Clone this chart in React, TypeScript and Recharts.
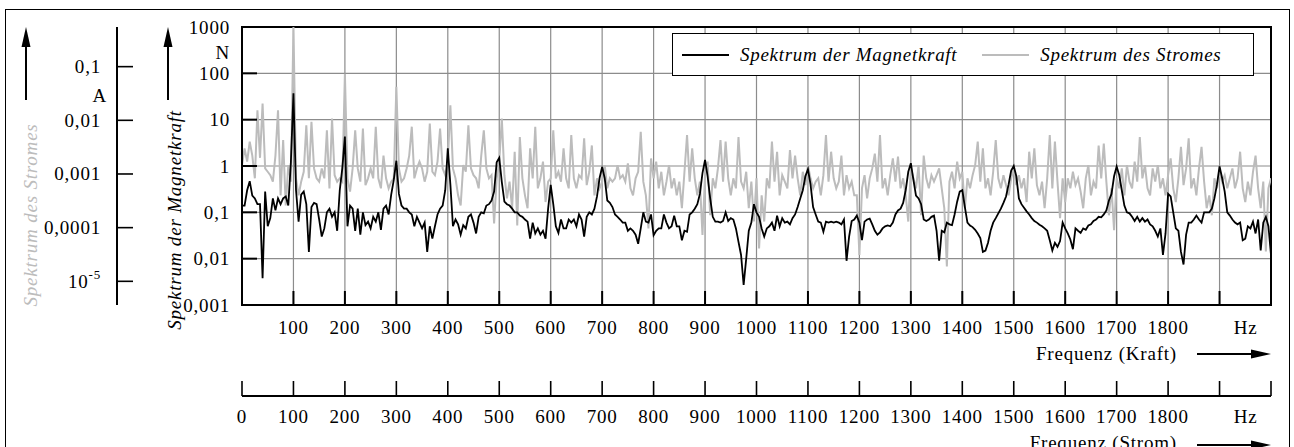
import React from 'react';
import {
  ComposedChart,
  Line,
  XAxis,
  YAxis,
  CartesianGrid,
  Legend,
  ReferenceArea,
} from 'recharts';

// Spectra sampled on a 5 Hz frequency grid, 0 … 2000 Hz
const STEP_HZ = 5;

// Spektrum der Magnetkraft in N
const forceN = [
  0.14, 0.14, 0.3, 0.47, 0.23, 0.2, 0.15, 0.15, 0.0038, 0.28, 0.05, 0.075, 0.2, 0.11, 0.2, 0.15, 0.2, 0.22, 0.14, 1.2,
  37, 0.3, 0.063, 0.24, 0.28, 0.15, 0.014, 0.13, 0.16, 0.15, 0.07, 0.03, 0.045, 0.1, 0.12, 0.08, 0.1, 0.04, 0.3, 0.9,
  4.3, 0.05, 0.14, 0.12, 0.04, 0.12, 0.033, 0.1, 0.053, 0.063, 0.045, 0.08, 0.063, 0.1, 0.042, 0.12, 0.14, 0.09, 0.24, 0.5,
  1.3, 0.25, 0.14, 0.12, 0.12, 0.1, 0.09, 0.05, 0.08, 0.06, 0.045, 0.06, 0.014, 0.05, 0.027, 0.05, 0.09, 0.12, 0.14, 0.3,
  2.4, 0.4, 0.05, 0.07, 0.055, 0.033, 0.053, 0.045, 0.08, 0.09, 0.06, 0.035, 0.08, 0.1, 0.095, 0.14, 0.15, 0.18, 0.28, 1.2,
  1.5, 0.45, 0.17, 0.15, 0.14, 0.12, 0.1, 0.1, 0.085, 0.08, 0.07, 0.063, 0.027, 0.06, 0.035, 0.045, 0.033, 0.04, 0.027, 0.12,
  0.39, 0.15, 0.05, 0.036, 0.07, 0.045, 0.045, 0.07, 0.06, 0.07, 0.05, 0.09, 0.07, 0.03, 0.08, 0.1, 0.09, 0.12, 0.22, 0.55,
  0.95, 0.55, 0.18, 0.16, 0.13, 0.09, 0.08, 0.07, 0.06, 0.06, 0.04, 0.045, 0.04, 0.033, 0.021, 0.045, 0.1, 0.063, 0.06, 0.09,
  0.032, 0.04, 0.045, 0.045, 0.09, 0.06, 0.045, 0.05, 0.085, 0.05, 0.05, 0.025, 0.04, 0.038, 0.09, 0.1, 0.12, 0.15, 0.25, 0.7,
  1.35, 0.6, 0.2, 0.08, 0.063, 0.063, 0.06, 0.065, 0.1, 0.065, 0.075, 0.07, 0.045, 0.023, 0.012, 0.0027, 0.01, 0.04, 0.06, 0.15,
  0.1, 0.08, 0.045, 0.03, 0.045, 0.05, 0.06, 0.04, 0.085, 0.05, 0.075, 0.06, 0.063, 0.055, 0.075, 0.09, 0.13, 0.2, 0.3, 0.6,
  0.85, 0.4, 0.13, 0.09, 0.063, 0.06, 0.038, 0.063, 0.06, 0.063, 0.06, 0.063, 0.06, 0.055, 0.07, 0.009, 0.03, 0.065, 0.07, 0.085,
  0.06, 0.025, 0.063, 0.07, 0.073, 0.055, 0.04, 0.033, 0.037, 0.045, 0.05, 0.052, 0.05, 0.06, 0.09, 0.11, 0.12, 0.16, 0.3, 0.75,
  1.15, 0.5, 0.23, 0.2, 0.15, 0.07, 0.065, 0.07, 0.08, 0.085, 0.04, 0.009, 0.04, 0.037, 0.06, 0.055, 0.053, 0.09, 0.17, 0.28,
  0.3, 0.13, 0.06, 0.052, 0.048, 0.042, 0.035, 0.028, 0.014, 0.015, 0.022, 0.04, 0.06, 0.075, 0.095, 0.12, 0.16, 0.22, 0.4, 0.8,
  1.0, 0.6, 0.2, 0.15, 0.125, 0.105, 0.09, 0.075, 0.065, 0.06, 0.054, 0.05, 0.045, 0.04, 0.025, 0.015, 0.022, 0.018, 0.024, 0.06,
  0.045, 0.035, 0.026, 0.016, 0.045, 0.04, 0.036, 0.045, 0.042, 0.052, 0.055, 0.065, 0.07, 0.08, 0.078, 0.09, 0.11, 0.18, 0.25, 0.6,
  0.97, 0.64, 0.3, 0.14, 0.1, 0.095, 0.08, 0.065, 0.08, 0.063, 0.075, 0.063, 0.07, 0.055, 0.05, 0.04, 0.03, 0.045, 0.012, 0.035,
  0.25, 0.22, 0.1, 0.045, 0.04, 0.014, 0.0075, 0.033, 0.06, 0.06, 0.07, 0.085, 0.07, 0.06, 0.1, 0.1, 0.1, 0.12, 0.2, 0.4,
  0.98, 0.55, 0.28, 0.1, 0.085, 0.07, 0.06, 0.055, 0.06, 0.025, 0.027, 0.05, 0.045, 0.063, 0.035, 0.07, 0.015, 0.06, 0.08, 0.05,
  0.012,
];

// Spektrum des Stromes in A
const currentA = [
  0.00146, 0.003, 0.0017, 0.004, 0.0022, 0.00083, 0.0154, 0.002, 0.0205, 0.00127, 0.0011, 0.00095, 0.00072, 0.0022, 0.0154, 0.0004, 0.0043, 0.00026, 0.00146, 0.00072,
  0.55, 0.00083, 0.0004, 0.00072, 0.0011, 0.0081, 0.00083, 0.0094, 0.00127, 0.00083, 0.00072, 0.00127, 0.00083, 0.0065, 0.00054, 0.0108, 0.00095, 0.00072, 0.00083, 0.00072,
  0.074, 0.00083, 0.00047, 0.00127, 0.0065, 0.00127, 0.00072, 0.007, 0.00062, 0.00083, 0.00127, 0.00083, 0.0076, 0.00083, 0.00054, 0.0022, 0.00083, 0.00054, 0.00072, 0.00083,
  0.042, 0.00127, 0.00072, 0.00083, 0.00127, 0.0022, 0.0076, 0.00083, 0.00127, 0.0017, 0.00127, 0.00072, 0.0011, 0.0087, 0.0011, 0.00095, 0.0017, 0.007, 0.00127, 0.00095,
  0.0017, 0.019, 0.00127, 0.00083, 0.0004, 0.00026, 0.00146, 0.0011, 0.0081, 0.00127, 0.00095, 0.00083, 0.00054, 0.0022, 0.0065, 0.00127, 0.00083, 0.00095, 0.00012, 0.00083,
  0.0017, 0.0108, 0.00095, 0.00035, 0.00072, 0.00023, 0.0026, 0.00011, 0.0049, 0.00083, 0.0004, 0.00023, 0.003, 0.00083, 0.0076, 0.00054, 0.00083, 0.0017, 0.0003, 0.00072,
  0.00083, 0.0065, 0.00083, 0.0011, 0.00072, 0.003, 0.00083, 0.00054, 0.0053, 0.00083, 0.00054, 0.00095, 0.00083, 0.0046, 0.00062, 0.0011, 0.0034, 0.0004, 0.00083, 0.00054,
  0.00072, 0.00146, 0.00054, 0.00083, 0.00072, 0.00083, 0.00146, 0.00083, 0.00095, 0.00072, 0.00157, 0.00054, 0.0004, 0.00083, 0.0011, 0.0061, 0.00072, 0.0004, 0.000097, 0.00195,
  0.00083, 0.0017, 0.00054, 0.0011, 0.0004, 0.00072, 0.00146, 0.00054, 0.00083, 0.0004, 0.00072, 0.00023, 0.0011, 0.0053, 0.00072, 0.003, 0.00083, 0.0004, 0.00072, 0.000073,
  0.00095, 0.0017, 0.00017, 0.00083, 0.00054, 0.00127, 0.0043, 0.00072, 0.004, 0.00083, 0.0004, 0.00083, 0.00054, 0.0049, 0.00072, 0.00054, 0.0011, 0.00023, 0.00072, 0.00013,
  0.00083, 0.000041, 0.0004, 0.00013, 0.00083, 0.00054, 0.004, 0.00072, 0.0026, 0.0004, 0.00095, 0.00072, 0.00054, 0.0028, 0.00083, 0.0022, 0.00083, 0.0004, 0.0011, 0.00062,
  0.00146, 0.00083, 0.00054, 0.00072, 0.00083, 0.0004, 0.00095, 0.0053, 0.00072, 0.0026, 0.00083, 0.00054, 0.00072, 0.0022, 0.0004, 0.00095, 0.00054, 0.00072, 0.0004, 0.0004,
  0.000031, 0.00054, 0.00095, 0.00035, 0.00083, 0.00127, 0.0024, 0.00072, 0.0053, 0.00054, 0.00083, 0.0004, 0.00095, 0.00195, 0.00072, 0.0021, 0.00054, 0.00083, 0.0004, 0.00013,
  0.00127, 0.00083, 0.00054, 0.00146, 0.00017, 0.0022, 0.00083, 0.00054, 0.00095, 0.00072, 0.00095, 0.00127, 0.00054, 0.00023, 0.000019, 0.00072, 0.0011, 0.00054, 0.0017, 0.00083,
  0.0011, 0.00023, 0.00083, 0.00054, 0.00095, 0.00146, 0.004, 0.00072, 0.003, 0.00054, 0.00083, 0.0004, 0.0011, 0.0043, 0.00083, 0.00054, 0.00095, 0.00062, 0.0004, 0.00083,
  0.00127, 0.00062, 0.00095, 0.00054, 0.00083, 0.0003, 0.0026, 0.00083, 0.003, 0.00062, 0.0004, 0.00072, 0.00023, 0.00083, 0.0053, 0.00054, 0.004, 0.00072, 0.00015, 0.00083,
  0.0003, 0.00083, 0.00054, 0.0011, 0.00062, 0.00083, 0.00047, 0.00023, 0.00083, 0.00146, 0.0004, 0.00072, 0.00054, 0.0034, 0.00083, 0.0037, 0.00072, 0.00017, 0.00054, 0.00009,
  0.00083, 0.00054, 0.00127, 0.0004, 0.00146, 0.00072, 0.00054, 0.0017, 0.00072, 0.0049, 0.00083, 0.00146, 0.00054, 0.0004, 0.00127, 0.00072, 0.00146, 0.00054, 0.00083, 0.0004,
  0.00095, 0.00195, 0.00054, 0.0003, 0.00083, 0.0032, 0.00062, 0.00127, 0.0046, 0.00054, 0.00083, 0.0004, 0.00127, 0.0032, 0.00072, 0.00023, 0.0004, 0.00017, 0.00083, 0.00054,
  0.0011, 0.00072, 0.00095, 0.00054, 0.00083, 0.00127, 0.00054, 0.00083, 0.0026, 0.00054, 0.0003, 0.00072, 0.0004, 0.0011, 0.0022, 0.00054, 0.00023, 0.00072, 0.000036, 0.00054,
  0.00083,
];

// Frequency axes (both in Hz)
const freqTicks = [0, 100, 200, 300, 400, 500, 600, 700, 800, 900, 1000, 1100, 1200, 1300, 1400, 1500, 1600, 1700, 1800, 1900, 2000];
const kraftTickLabels = ['', '100', '200', '300', '400', '500', '600', '700', '800', '900', '1000', '1100', '1200', '1300', '1400', '1500', '1600', '1700', '1800', 'Hz', ''];
const stromTickLabels = ['0', '100', '200', '300', '400', '500', '600', '700', '800', '900', '1000', '1100', '1200', '1300', '1400', '1500', '1600', '1700', '1800', 'Hz', ''];

// Force axis (N)
const forceTicks = [0.001, 0.01, 0.1, 1, 10, 100, 1000];
const forceTickLabels = ['0,001', '0,01', '0,1', '1', '10', '100', '1000'];

// Current axis (A)
const currentTicks = [0.00001, 0.0001, 0.001, 0.01, 0.1];
const currentTickLabels = ['10^-5', '0,0001', '0,001', '0,01', '0,1'];
const currentDomain = [3.62e-6, 0.548];

const data = forceN.map((f, i) => ({ hz: i * STEP_HZ, force: f, current: currentA[i] }));

const FONT = '"Liberation Serif", "Times New Roman", serif';
const FS = 19;
const LS = 0.8;
const GRAY = '#bcbcbc';

const labelFor = (ticks: number[], labels: string[], v: number) => {
  const i = ticks.findIndex((t) => t === v || (t > 0 && v > 0 && Math.abs(Math.log10(t) - Math.log10(v)) < 1e-6));
  return i >= 0 ? labels[i] : '';
};

const textStyle = { fontFamily: FONT, fontSize: FS, letterSpacing: LS } as const;

const ForceTick = (props: any) => {
  const { x, y, payload } = props;
  const lab = labelFor(forceTicks, forceTickLabels, payload.value);
  return (
    <g>
      <line x1={x} x2={x + 15} y1={y} y2={y} stroke="#000" strokeWidth={2} />
      <text x={x - 12} y={y} textAnchor="end" dominantBaseline="central" fill="#000" style={textStyle}>
        {lab}
      </text>
    </g>
  );
};

const CurrentTick = (props: any) => {
  const { x, y, payload } = props;
  const lab = labelFor(currentTicks, currentTickLabels, payload.value);
  const parts = lab.split('^');
  return (
    <g>
      <line x1={x} x2={x + 16} y1={y} y2={y} stroke="#000" strokeWidth={1.6} />
      <text x={x - 16} y={y} textAnchor="end" dominantBaseline="central" fill="#000" style={textStyle}>
        {parts[0]}
        {parts[1] ? (
          <tspan dy={-7} style={{ fontSize: 13 }}>
            {parts[1]}
          </tspan>
        ) : null}
      </text>
    </g>
  );
};

const KraftTick = (props: any) => {
  const { x, y, payload } = props;
  const lab = labelFor(freqTicks, kraftTickLabels, payload.value);
  return (
    <g>
      <line x1={x} x2={x} y1={y} y2={y - 14} stroke="#000" strokeWidth={2} />
      <text x={lab === 'Hz' ? x + 26 : x} y={y + 22} textAnchor="middle" dominantBaseline="central" fill="#000" style={textStyle}>
        {lab}
      </text>
    </g>
  );
};

const StromTick = (props: any) => {
  const { x, y, payload } = props;
  const lab = labelFor(freqTicks, stromTickLabels, payload.value);
  return (
    <g>
      <line x1={x} x2={x} y1={y} y2={y - 15} stroke="#000" strokeWidth={1.6} />
      <text x={lab === 'Hz' ? x + 26 : x} y={y + 20} textAnchor="middle" dominantBaseline="central" fill="#000" style={textStyle}>
        {lab}
      </text>
    </g>
  );
};

const UpArrow = ({ x, tip, base }: { x: number; tip: number; base: number }) => (
  <g>
    <line x1={x} x2={x} y1={base} y2={tip + 16} stroke="#000" strokeWidth={2} />
    <polygon points={`${x},${tip} ${x - 4.5},${tip + 20} ${x + 4.5},${tip + 20}`} fill="#000" />
  </g>
);

const RightArrow = ({ y, from, tip }: { y: number; from: number; tip: number }) => (
  <g>
    <line x1={from} x2={tip - 16} y1={y} y2={y} stroke="#000" strokeWidth={2} />
    <polygon points={`${tip},${y} ${tip - 20},${y - 4.5} ${tip - 20},${y + 4.5}`} fill="#000" />
  </g>
);

const ForceAxisLabel = () => (
  <g>
    <UpArrow x={168} tip={27} base={100} />
    <text
      transform="translate(174,220) rotate(-90)"
      textAnchor="middle"
      dominantBaseline="central"
      fill="#000"
      style={{ ...textStyle, fontStyle: 'italic' }}
    >
      Spektrum der Magnetkraft
    </text>
    <text x={230} y={52} textAnchor="end" dominantBaseline="central" fill="#000" style={textStyle}>
      N
    </text>
  </g>
);

const CurrentAxisLabel = () => (
  <g>
    <UpArrow x={26} tip={27} base={100} />
    <text
      transform="translate(30,215) rotate(-90)"
      textAnchor="middle"
      dominantBaseline="central"
      fill={GRAY}
      style={{ ...textStyle, fontStyle: 'italic' }}
    >
      Spektrum des Stromes
    </text>
    <text x={107} y={95} textAnchor="end" dominantBaseline="central" fill="#000" style={textStyle}>
      A
    </text>
  </g>
);

const KraftAxisLabel = () => (
  <g>
    <text x={1177} y={353} textAnchor="end" dominantBaseline="central" fill="#000" style={textStyle}>
      Frequenz (Kraft)
    </text>
    <RightArrow y={354} from={1197} tip={1271} />
  </g>
);

const StromAxisLabel = () => (
  <g>
    <text x={1177} y={442} textAnchor="end" dominantBaseline="central" fill="#000" style={textStyle}>
      Frequenz (Strom)
    </text>
    <RightArrow y={445} from={1197} tip={1271} />
  </g>
);

const LegendBox = (props: any) => {
  const items = [...(props.payload || [])];
  return (
    <div
      style={{
        display: 'flex',
        alignItems: 'center',
        width: '100%',
        height: '100%',
        boxSizing: 'border-box',
        border: '1.5px solid #000',
        background: '#fff',
        paddingLeft: 9,
        fontFamily: FONT,
        fontSize: FS,
        fontStyle: 'italic',
        letterSpacing: 0.7,
        color: '#000',
      }}
    >
      {items.map((it: any, i: number) => (
        <div key={i} style={{ display: 'flex', alignItems: 'center', marginRight: i === 0 ? 25 : 0 }}>
          <span
            style={{
              display: 'inline-block',
              width: 47,
              height: 0,
              borderTop: `2px solid ${it.color}`,
              marginRight: 11,
            }}
          />
          <span style={{ whiteSpace: 'nowrap' }}>{it.value}</span>
        </div>
      ))}
    </div>
  );
};

export default function App() {
  return (
    <div style={{ position: 'absolute', left: 0, top: 0, width: 1294, height: 447, overflow: 'hidden', background: '#fff' }}>
      <div
        style={{
          position: 'absolute',
          left: 5,
          top: 9,
          width: 1285,
          height: 480,
          border: '1.5px solid #000',
          boxSizing: 'border-box',
        }}
      />
      <div style={{ position: 'absolute', left: 0, top: 0 }}>
        <ComposedChart width={1294} height={447} data={data} margin={{ top: 27, right: 23, bottom: 0, left: 0 }}>
          <CartesianGrid xAxisId="kraft" yAxisId="force" stroke="#8c8c8c" strokeWidth={1.2} />
          <XAxis
            xAxisId="kraft"
            dataKey="hz"
            type="number"
            domain={[0, 2000]}
            allowDataOverflow
            ticks={freqTicks}
            interval={0}
            height={91}
            tickSize={0}
            tickMargin={0}
            axisLine={{ stroke: '#000', strokeWidth: 2 }}
            tickLine={false}
            tick={<KraftTick />}
            label={<KraftAxisLabel />}
          />
          <XAxis
            xAxisId="strom"
            dataKey="hz"
            type="number"
            domain={[0, 2000]}
            allowDataOverflow
            ticks={freqTicks}
            interval={0}
            height={51}
            tickSize={0}
            tickMargin={0}
            axisLine={{ stroke: '#000', strokeWidth: 2 }}
            tickLine={false}
            tick={<StromTick />}
            label={<StromAxisLabel />}
          />
          <YAxis
            yAxisId="force"
            type="number"
            scale="log"
            domain={[0.001, 1000]}
            allowDataOverflow
            ticks={forceTicks}
            interval={0}
            width={125}
            tickSize={0}
            tickMargin={0}
            axisLine={{ stroke: '#000', strokeWidth: 2 }}
            tickLine={false}
            tick={<ForceTick />}
            label={<ForceAxisLabel />}
          />
          <YAxis
            yAxisId="strom"
            type="number"
            scale="log"
            domain={currentDomain}
            allowDataOverflow
            ticks={currentTicks}
            interval={0}
            width={117}
            tickSize={0}
            tickMargin={0}
            axisLine={{ stroke: '#000', strokeWidth: 2 }}
            tickLine={false}
            tick={<CurrentTick />}
            label={<CurrentAxisLabel />}
          />
          <Line
            xAxisId="strom"
            yAxisId="strom"
            dataKey="current"
            name="Spektrum des Stromes"
            stroke={GRAY}
            strokeWidth={2}
            dot={false}
            activeDot={false}
            isAnimationActive={false}
          />
          <Line
            xAxisId="kraft"
            yAxisId="force"
            dataKey="force"
            name="Spektrum der Magnetkraft"
            stroke="#000"
            strokeWidth={1.8}
            dot={false}
            activeDot={false}
            isAnimationActive={false}
          />
          <ReferenceArea
            xAxisId="kraft"
            yAxisId="force"
            x1={0}
            x2={2000}
            y1={0.001}
            y2={1000}
            fill="none"
            stroke="#000"
            strokeWidth={2}
            ifOverflow="visible"
          />
          <Legend
            layout="vertical"
            align="center"
            verticalAlign="middle"
            content={<LegendBox />}
            wrapperStyle={{ left: 672, top: 33, width: 582, height: 43 }}
          />
        </ComposedChart>
      </div>
    </div>
  );
}
